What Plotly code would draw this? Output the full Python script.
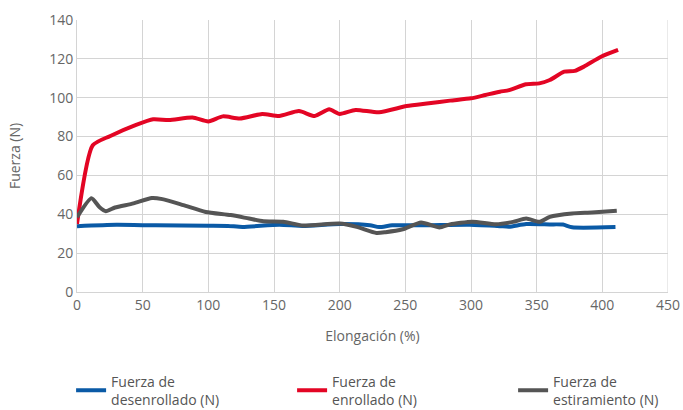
import plotly.graph_objects as go

red_x = [0, 12, 25, 45, 58, 70, 88, 100, 111, 124, 141, 154, 169, 181, 192, 200, 212, 230, 251, 268, 284, 300, 311, 322, 329, 342, 352, 360, 371, 379, 386, 399, 412]
red_y = [35, 75.5, 80.2, 86, 88.9, 88.5, 89.8, 87.8, 90.4, 89.3, 91.6, 90.6, 93.1, 90.6, 94, 91.6, 93.7, 92.5, 95.7, 97.1, 98.5, 99.7, 101.4, 103.1, 103.9, 106.9, 107.4, 109.1, 113.4, 113.8, 116, 121.1, 124.6]

blue_x = [0, 30, 60, 100, 115, 126, 154, 172, 200, 223, 230, 240, 268, 299, 322, 329, 342, 360, 370, 377, 410]
blue_y = [33.9, 34.6, 34.3, 34.1, 34.0, 33.5, 34.6, 34.0, 35.0, 34.4, 33.4, 34.3, 34.4, 34.6, 33.9, 33.6, 35.0, 34.8, 34.7, 33.3, 33.4]

gray_x = [0, 11, 17, 22, 29, 43, 57, 65, 81, 98, 117, 131, 142, 157, 172, 200, 213, 228, 235, 248, 262, 276, 284, 301, 319, 332, 342, 352, 360, 377, 392, 411]
gray_y = [38.5, 48.3, 43.8, 41.6, 43.5, 45.6, 48.4, 47.8, 44.7, 41.2, 39.6, 37.8, 36.4, 36.2, 34.2, 35.2, 33.5, 30.4, 30.8, 32.3, 35.8, 33.2, 34.8, 36.2, 34.9, 36.1, 37.8, 36.1, 38.7, 40.4, 40.9, 41.8]

x_ticks = [0, 50, 100, 150, 200, 250, 300, 350, 400, 450]
y_ticks = [0, 20, 40, 60, 80, 100, 120, 140]

names = ["Fuerza de<br>desenrollado (N)", "Fuerza de<br>enrollado (N)", "Fuerza de<br>estiramiento (N)"]
colors = ["#0a5aa6", "#e30524", "#555555"]

fig = go.Figure()
for xs, ys, nm, c in [(blue_x, blue_y, names[0], colors[0]),
                      (red_x, red_y, names[1], colors[1]),
                      (gray_x, gray_y, names[2], colors[2])]:
    fig.add_trace(go.Scatter(x=xs, y=ys, mode="lines", name=nm,
                             line=dict(color=c, width=4, shape="spline", smoothing=0.6)))

font = "Open Sans, Noto Sans, sans-serif"
fig.update_layout(
    width=683, height=410,
    margin=dict(l=77, r=15, t=20, b=118, autoexpand=False),
    paper_bgcolor="white", plot_bgcolor="white",
    font=dict(family=font, size=14, color="#666666"),
    xaxis=dict(range=[0, 450], tickvals=x_ticks, showgrid=True, gridcolor="#d4d4d4", gridwidth=1,
               zeroline=False, showline=True, linecolor="#d4d4d4", ticks="",
               title=dict(text="Elongación (%)", font=dict(size=14, color="#666666"), standoff=18),
               mirror=False),
    yaxis=dict(range=[0, 140], tickvals=y_ticks, showgrid=True, gridcolor="#d4d4d4", gridwidth=1,
               zeroline=False, showline=True, linecolor="#d4d4d4", ticks="",
               title=dict(text="Fuerza (N)", font=dict(size=14, color="#666666"), standoff=25)),
    legend=dict(orientation="h", x=-0.01, xanchor="left", y=-0.27, yanchor="top",
                font=dict(size=14, color="#555555"), entrywidth=176, entrywidthmode="pixels",
                itemwidth=30, tracegroupgap=0),
    showlegend=True,
)
fig.add_shape(type="line", xref="x", yref="paper", x0=450, x1=450, y0=0, y1=1,
              line=dict(color="#d4d4d4", width=1))
fig.write_html("out.html", config={"displayModeBar": False},
               post_script="document.body.style.margin='0';document.body.style.overflow='hidden';")
